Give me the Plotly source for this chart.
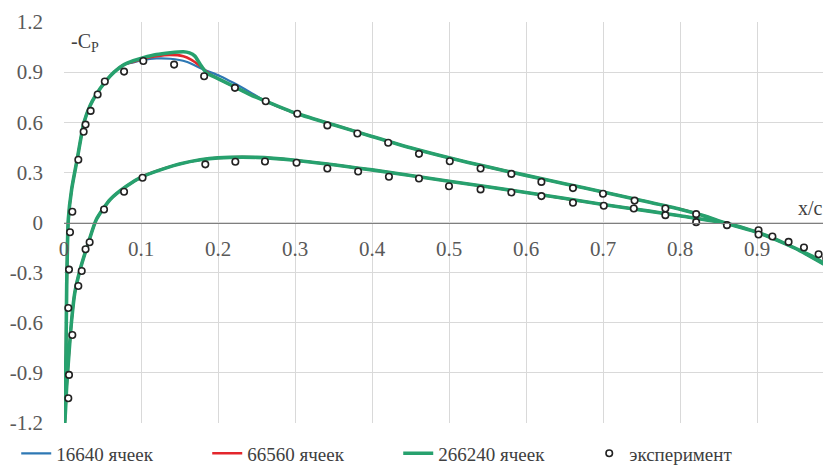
import plotly.graph_objects as go

# ---- data (x/c, -Cp) ----
# lower surface line, leading edge -> trailing edge
lower_x = [0.001, 0.0035, 0.0065, 0.010, 0.014, 0.021, 0.0316, 0.042, 0.06, 0.081, 0.103,
           0.133, 0.15, 0.177, 0.2, 0.25, 0.3, 0.4, 0.5, 0.6, 0.7, 0.76, 0.8, 0.86, 0.9,
           0.95, 0.997]
lower_y = [-1.2, -0.98, -0.78, -0.581, -0.421, -0.281, -0.122, 0.018, 0.138, 0.217, 0.277,
           0.327, 0.35, 0.375, 0.387, 0.39, 0.373, 0.315, 0.247, 0.18, 0.108, 0.068, 0.04,
           -0.005, -0.058, -0.155, -0.275]

# upper surface near leading edge (common to all grids)
upper_le_x = [0.0026, 0.0035, 0.0056, 0.010, 0.017, 0.026, 0.034, 0.041, 0.055, 0.065, 0.078]
upper_le_y = [-0.78, -0.38, 0.018, 0.2, 0.375, 0.6, 0.7, 0.76, 0.85, 0.9, 0.945]

# upper surface peak region, per grid
peak16640_x = [0.09, 0.103, 0.12, 0.138, 0.159, 0.181, 0.203, 0.22, 0.2416]
peak16640_y = [0.958, 0.973, 0.982, 0.98, 0.962, 0.916, 0.876, 0.836, 0.78]
peak66560_x = [0.09, 0.103, 0.12, 0.138, 0.155, 0.165, 0.177, 0.19, 0.211, 0.23]
peak66560_y = [0.962, 0.98, 0.995, 1.003, 0.995, 0.975, 0.936, 0.886, 0.836, 0.792]
peak266240_x = [0.09, 0.103, 0.12, 0.138, 0.155, 0.163, 0.17, 0.177, 0.185, 0.198, 0.22, 0.2416]
peak266240_y = [0.968, 0.986, 1.005, 1.016, 1.022, 1.015, 0.996, 0.946, 0.896, 0.866, 0.816, 0.766]

# upper surface aft part (common)
upper_te_x = [0.26, 0.3, 0.35, 0.4, 0.45, 0.5, 0.55, 0.6, 0.65, 0.7, 0.75, 0.8, 0.83, 0.86,
              0.9, 0.92, 0.95, 0.975, 0.997]
upper_te_y = [0.73, 0.655, 0.585, 0.515, 0.447, 0.387, 0.333, 0.282, 0.232, 0.183, 0.132,
              0.08, 0.042, -0.005, -0.058, -0.092, -0.155, -0.21, -0.275]

# experiment
exp_x = [0.0056, 0.0065, 0.0108, 0.0056, 0.0065, 0.0078, 0.0108, 0.0186, 0.0255, 0.028,
         0.0346, 0.0437, 0.053, 0.078, 0.103, 0.143, 0.182, 0.222, 0.262, 0.303, 0.342,
         0.381, 0.421, 0.461, 0.501, 0.541, 0.581, 0.620, 0.661, 0.700, 0.741, 0.781,
         0.821, 0.861, 0.902, 0.920, 0.941, 0.961, 0.980, 0.990,
         0.0186, 0.023, 0.028, 0.0333, 0.052, 0.078, 0.102, 0.1835, 0.2225, 0.261, 0.302,
         0.342, 0.382, 0.422, 0.461, 0.500, 0.541, 0.581, 0.620, 0.661, 0.701, 0.740,
         0.781, 0.821, 0.902]
exp_y = [-1.052, -0.912, -0.673, -0.512, -0.282, -0.058, 0.064, 0.376, 0.543, 0.586,
         0.668, 0.766, 0.844, 0.903, 0.967, 0.945, 0.875, 0.806, 0.726, 0.651, 0.581,
         0.533, 0.477, 0.411, 0.367, 0.323, 0.291, 0.243, 0.206, 0.172, 0.131, 0.084,
         0.050, -0.016, -0.046, -0.084, -0.116, -0.150, -0.190, -0.214,
         -0.380, -0.290, -0.160, -0.118, 0.078, 0.184, 0.268, 0.348, 0.364, 0.365, 0.358,
         0.323, 0.305, 0.274, 0.263, 0.217, 0.198, 0.180, 0.158, 0.118, 0.100, 0.084,
         0.044, 0.002, -0.072]

x_ticks = [0, 0.1, 0.2, 0.3, 0.4, 0.5, 0.6, 0.7, 0.8, 0.9]
x_labels = ["0", "0.1", "0.2", "0.3", "0.4", "0.5", "0.6", "0.7", "0.8", "0.9"]
y_ticks = [-1.2, -0.9, -0.6, -0.3, 0, 0.3, 0.6, 0.9, 1.2]
y_labels = ["-1.2", "-0.9", "-0.6", "-0.3", "0", "0.3", "0.6", "0.9", "1.2"]

series = [
    ("16640 ячеек", peak16640_x, peak16640_y, "#2e78b4", 2.2),
    ("66560 ячеек", peak66560_x, peak66560_y, "#e3262c", 2.6),
    ("266240 ячеек", peak266240_x, peak266240_y, "#27a16e", 3.6),
]

FONT = "Liberation Serif"
fig = go.Figure()
for name, px, py, col, w in series:
    xs = lower_x[::-1] + upper_le_x + px + upper_te_x
    ys = lower_y[::-1] + upper_le_y + py + upper_te_y
    fig.add_trace(go.Scatter(x=xs, y=ys, mode="lines", name=name,
                             line=dict(color=col, width=w, shape="spline", smoothing=0.6)))

fig.add_trace(go.Scatter(x=exp_x, y=exp_y, mode="markers", name="эксперимент",
                         marker=dict(symbol="circle", size=6.5, color="white",
                                     line=dict(color="#222222", width=1.6))))

# the page body has an 8px margin; size the figure so the plot lands where the reference has it
fig.update_layout(
    width=823, height=464,
    margin=dict(l=56, r=0, t=14, b=49, autoexpand=False),
    paper_bgcolor="white", plot_bgcolor="white",
    font=dict(family=FONT, size=20, color="#595959"),
    showlegend=True,
    legend=dict(orientation="h", xref="container", yref="container",
                x=0.01, xanchor="left", y=0.04, yanchor="middle",
                entrywidth=146, entrywidthmode="pixels", itemwidth=30,
                tracegroupgap=0,
                font=dict(family=FONT, size=19, color="#404040"),
                bgcolor="rgba(0,0,0,0)"),
    xaxis=dict(range=[0, 0.9961], tickvals=x_ticks, ticktext=x_labels,
               showgrid=True, gridcolor="#d9d9d9", gridwidth=1,
               zeroline=False, anchor="free", position=0.5, automargin=False,
               showline=True, linecolor="#7f7f7f", linewidth=1.3,
               ticks="", ticklabelstandoff=7,
               tickfont=dict(family=FONT, size=21, color="#595959")),
    yaxis=dict(range=[-1.2, 1.2], tickvals=y_ticks, ticktext=y_labels, automargin=False,
               showgrid=True, gridcolor="#d9d9d9", gridwidth=1,
               zeroline=False, showline=False, ticks="", ticklabelstandoff=20,
               tickfont=dict(family=FONT, size=21, color="#595959")),
    annotations=[
        dict(text="-C<sub>P</sub>", xref="paper", yref="paper", x=0.006, y=0.95,
             xanchor="left", yanchor="middle", showarrow=False,
             font=dict(family=FONT, size=20, color="#404040")),
        dict(text="x/c", xref="x", yref="y", x=0.97, y=0.085,
             xanchor="center", yanchor="middle", showarrow=False,
             font=dict(family=FONT, size=20, color="#404040")),
    ],
)

fig.write_html("out.html")
